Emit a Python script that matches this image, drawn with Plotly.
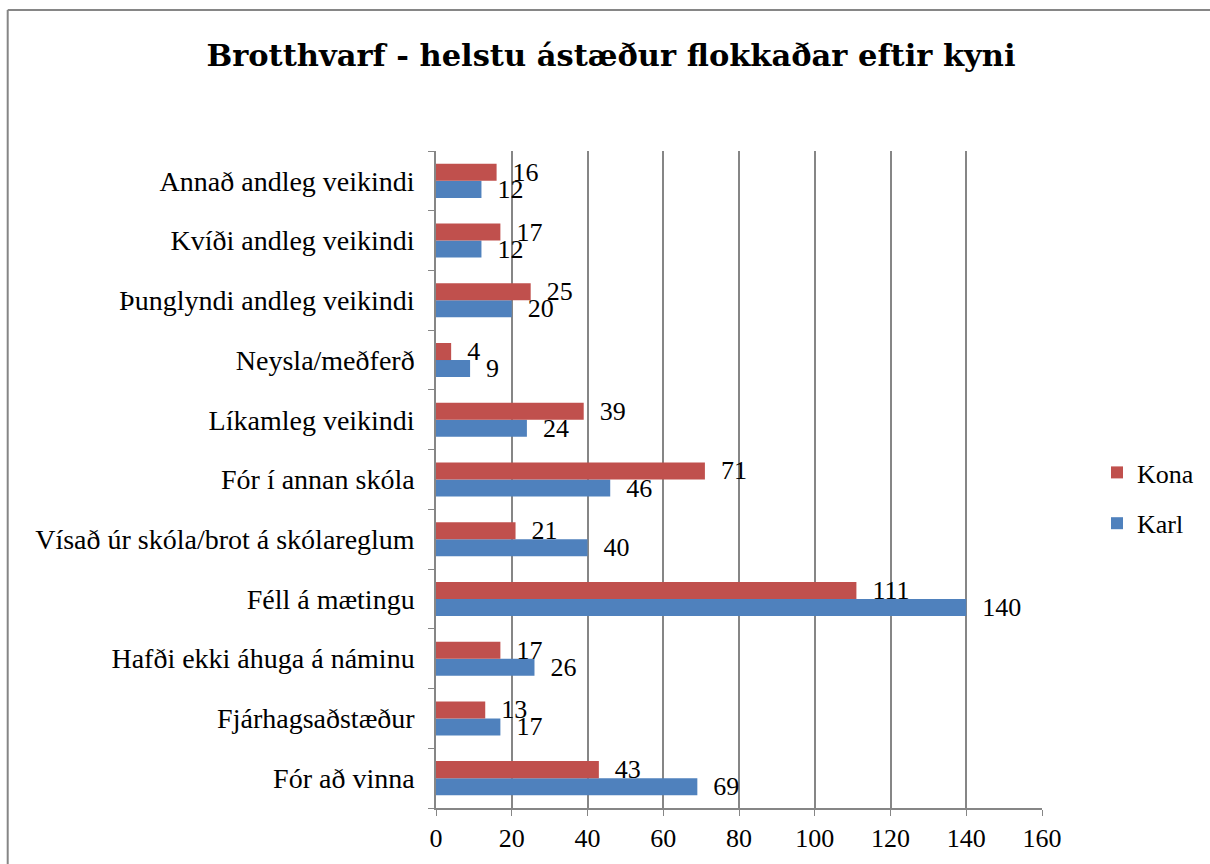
import plotly.graph_objects as go

categories = [
    "Fór að vinna",
    "Fjárhagsaðstæður",
    "Hafði ekki áhuga á náminu",
    "Féll á mætingu",
    "Vísað úr skóla/brot á skólareglum",
    "Fór í annan skóla",
    "Líkamleg veikindi",
    "Neysla/meðferð",
    "Þunglyndi andleg veikindi",
    "Kvíði andleg veikindi",
    "Annað andleg veikindi",
]
karl = [69, 17, 26, 140, 40, 46, 24, 9, 20, 12, 12]
kona = [43, 13, 17, 111, 21, 71, 39, 4, 25, 17, 16]
x_ticks = [0, 20, 40, 60, 80, 100, 120, 140, 160]

W, H = 1210, 864
ML, MR, MT, MB = 436, 167, 151, 56
FONT = "Liberation Serif"
GRID = "#868686"

fig = go.Figure()
for name, vals, col, rank in [("Karl", karl, "#4F81BD", 2), ("Kona", kona, "#C0504D", 1)]:
    fig.add_trace(go.Bar(
        y=categories, x=vals, name=name, orientation="h",
        legendgroup=name, legendrank=rank,
        marker=dict(color=col, line=dict(width=0)),
        text=vals, texttemplate="\u00a0\u00a0%{x}", textposition="outside",
        textfont=dict(family=FONT, size=26, color="#000000"),
        constraintext="none", cliponaxis=False,
    ))

pw = W - ML - MR
ph = H - MT - MB
def px_x(p):
    return (p - ML) / pw
def px_y(p):
    return (H - MB - p) / ph

fig.update_layout(
    width=W, height=H,
    margin=dict(l=ML, r=MR, t=MT, b=MB, pad=0),
    paper_bgcolor="white", plot_bgcolor="white",
    barmode="group", bargap=0.43, bargroupgap=0,
    font=dict(family=FONT, size=26, color="#000000"),
    title=dict(text="<b>Brotthvarf - helstu ástæður flokkaðar eftir kyni</b>",
               x=611 / W, xanchor="center",
               y=1 - 55 / H, yanchor="middle",
               font=dict(family="DejaVu Serif", size=30.5, color="#000000")),
    legend=dict(x=px_x(1097), xanchor="left", y=px_y(498), yanchor="middle",
                traceorder="grouped", font=dict(family=FONT, size=26),
                itemwidth=30, tracegroupgap=14, bgcolor="rgba(0,0,0,0)",
                borderwidth=0),
    xaxis=dict(range=[0, 160], tickvals=x_ticks, ticks="outside", ticklen=6,
               tickcolor=GRID, showgrid=True, gridcolor=GRID, gridwidth=1.5,
               showline=True, linecolor=GRID, linewidth=1.5, zeroline=False,
               tickfont=dict(family=FONT, size=26), automargin=False),
    yaxis=dict(type="category", categoryorder="array", categoryarray=categories,
               ticks="outside", tickson="boundaries", ticklen=6, tickcolor=GRID,
               showline=True, linecolor=GRID, linewidth=1.5, showgrid=False,
               tickfont=dict(family=FONT, size=28), ticklabelstandoff=14,
               automargin=False),
    shapes=[
        dict(type="line", xref="paper", yref="paper", x0=px_x(7), x1=px_x(7),
             y0=px_y(10), y1=px_y(870), line=dict(color=GRID, width=2)),
        dict(type="line", xref="paper", yref="paper", x0=px_x(7), x1=px_x(1215),
             y0=px_y(10), y1=px_y(10), line=dict(color=GRID, width=2)),
    ],
)

fig.write_html("out.html", config={"displayModeBar": False},
               post_script="document.body.style.margin='0';document.body.style.overflow='hidden';")
